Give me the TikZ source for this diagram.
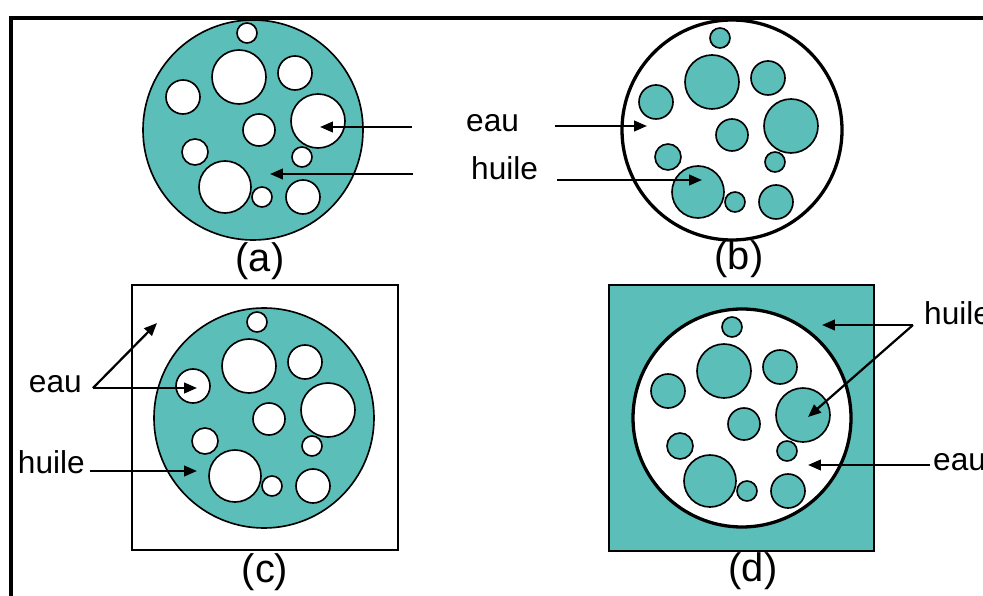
\documentclass[tikz,border=0pt]{standalone}
\usepackage{fontspec}
\setmainfont{Liberation Sans}
\usetikzlibrary{arrows.meta,positioning}
\definecolor{huileteal}{RGB}{92,190,184}

\tikzset{
  fleche/.style={-{Triangle[length=11pt,width=9pt]}, line width=1.9pt},
  bulle/.style={draw, line width=1.4pt},
  grandbord/.style={draw, line width=2.8pt},
  etiquette/.style={font=\fontsize{27}{32}\selectfont, inner sep=0pt},
  legende/.style={font=\fontsize{34}{40}\selectfont, inner sep=0pt, anchor=base},
}

% bubbles: dx/dy/radius
\newcommand{\listebulles}{-6/-97/10, -14/-53/27, 42/-57/17, -70/-33/17, 65/-9/27, 6/0/16, -58/22/13, 49/27/10, -28/57/26, 9/67/10, 50/67/17}

\begin{document}
\begin{tikzpicture}[x=0.03cm, y=-0.03cm]
        \clip (0,0) rectangle (983,596);
        \fill[white] (0,0) rectangle (983,596);

        % Frame
        \draw[line width=3.6pt, line join=miter] (11,600) -- (11,18) -- (990,18);

        % (a) oil with water drops
        \draw[bulle, fill=huileteal] (253,130) circle (110);
        \begin{scope}[shift={(253,130)}]
            \foreach \dx/\dy/\r in \listebulles
            \draw[bulle, fill=white] (\dx,\dy) circle (\r);
        \end{scope}
        \node[legende] (lega) at (260,271) {(a)};

        % (b) water with oil drops
        \draw[grandbord, fill=white] (732,130) circle (110);
        \begin{scope}[shift={(726,135)}]
            \foreach \dx/\dy/\r in \listebulles
            \draw[bulle, fill=huileteal] (\dx,\dy) circle (\r);
        \end{scope}
        \node[legende] (legb) at (739,270) {(b)};

        % labels between (a) and (b)
        \node[etiquette, anchor=base west] (eauab) at (466,132) {eau};
        \node[etiquette, anchor=base west] (huileab) at (471,180) {huile};
        \coordinate (da1) at (412,127);
        \coordinate (ta1) at (320,127);
        \coordinate (da2) at (413,174);
        \coordinate (ta2) at (270,174);
        \coordinate (db1) at (555,126);
        \coordinate (tb1) at (647,126);
        \coordinate (db2) at (557,180);
        \coordinate (tb2) at (702,180);
        \draw[fleche] (da1) -- (ta1);
        \draw[fleche] (da2) -- (ta2);
        \draw[fleche] (db1) -- (tb1);
        \draw[fleche] (db2) -- (tb2);

        % (c) oil drop with water inside, in water
        \draw[line width=1pt] (132,285) rectangle (398,550);
        \draw[bulle, fill=huileteal] (264,418) circle (110);
        \begin{scope}[shift={(263,419)}]
            \foreach \dx/\dy/\r in \listebulles
            \draw[bulle, fill=white] (\dx,\dy) circle (\r);
        \end{scope}
        \node[legende] (legc) at (265,582) {(c)};

        \node[etiquette, anchor=base east] (eauc) at (82,392) {eau};
        \node[etiquette, anchor=base east] (huilec) at (85,473) {huile};
        \coordinate (dc1) at (93,388);
        \coordinate (tc1) at (157,323);
        \coordinate (tc2) at (197,388);
        \coordinate (dc3) at (90,471);
        \coordinate (tc3) at (197,471);
        \draw[fleche] (dc1) -- (tc1);
        \draw[fleche] (dc1) -- (tc2);
        \draw[fleche] (dc3) -- (tc3);

        % (d) water drop with oil inside, in oil
        \draw[line width=1pt, fill=huileteal] (609,285) rectangle (874,551);
        \draw[grandbord, fill=white] (742,418) circle (109);
        \begin{scope}[shift={(738,424)}]
            \foreach \dx/\dy/\r in \listebulles
            \draw[bulle, fill=huileteal] (\dx,\dy) circle (\r);
        \end{scope}
        \node[legende] (legd) at (753,581) {(d)};

        \node[etiquette, anchor=base west] (huiled) at (924,324) {huile};
        \node[etiquette, anchor=base west] (eaud) at (933,470) {eau};
        \coordinate (dd1) at (913,325);
        \coordinate (td1) at (822,325);
        \coordinate (td2) at (808,417);
        \coordinate (dd3) at (930,465);
        \coordinate (td3) at (808,465);
        \draw[fleche] (dd1) -- (td1);
        \draw[fleche] (dd1) -- (td2);
        \draw[fleche] (dd3) -- (td3);
\end{tikzpicture}
\end{document}
